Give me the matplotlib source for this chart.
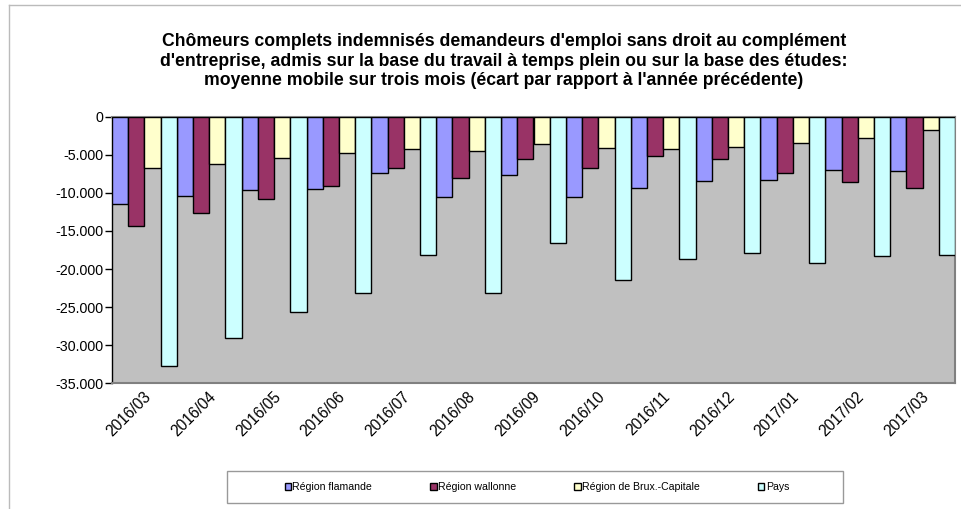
import matplotlib
matplotlib.use("Agg")
import matplotlib.pyplot as plt
from matplotlib.patches import Patch, Rectangle
from matplotlib.lines import Line2D
from matplotlib.ticker import FuncFormatter
import matplotlib.transforms as mtransforms
import numpy as np

plt.rcParams['font.family'] = ['Liberation Sans', 'DejaVu Sans']

months = ["2016/03", "2016/04", "2016/05", "2016/06", "2016/07", "2016/08", "2016/09",
          "2016/10", "2016/11", "2016/12", "2017/01", "2017/02", "2017/03"]
flamande = [-11500, -10400, -9600, -9500, -7400, -10600, -7600, -10600, -9300, -8400, -8300, -7000, -7100]
wallonne = [-14400, -12600, -10800, -9100, -6700, -8100, -5500, -6800, -5200, -5600, -7400, -8600, -9400]
bruxelles = [-6800, -6200, -5400, -4700, -4200, -4500, -3600, -4100, -4200, -4000, -3500, -2800, -1800]
pays = [-32700, -29100, -25700, -23100, -18200, -23100, -16600, -21400, -18700, -17900, -19200, -18300, -18200]

series_names = ["Région flamande", "Région wallonne", "Région de Brux.-Capitale", "Pays"]
series_values = [flamande, wallonne, bruxelles, pays]
colors = ["#9999FF", "#993366", "#FFFFCC", "#CCFFFF"]

title = ("Chômeurs complets indemnisés demandeurs d'emploi sans droit au complément\n"
         "d'entreprise, admis sur la base du travail à temps plein ou sur la base des études:\n"
         "moyenne mobile sur trois mois (écart par rapport à l'année précédente)")

W, H = 962, 509
fig = plt.figure(figsize=(W / 100, H / 100), dpi=100)

# outer chart-area border (top and left visible)
fig.add_artist(Line2D([9 / W, 1], [1 - 5 / H, 1 - 5 / H], color="#BBBBBB", lw=1.0))
fig.add_artist(Line2D([9 / W, 9 / W], [0, 1 - 5 / H], color="#BBBBBB", lw=1.0))

left, right, top, bottom = 112, 955, 116.7, 383.3
ax = fig.add_axes([left / W, 1 - bottom / H, (right - left) / W, (bottom - top) / H])
ax.set_facecolor("#C0C0C0")

x = np.arange(len(months))
bw = 0.25
for j, (vals, c) in enumerate(zip(series_values, colors)):
    ax.bar(x + (j - 1.5) * bw, vals, width=bw, color=c, edgecolor="black", linewidth=1.0, zorder=3)

ax.set_xlim(-0.5, len(months) - 0.5)
ax.set_ylim(-35000, 0)
ax.set_yticks(np.arange(-35000, 1, 5000))
ax.yaxis.set_major_formatter(FuncFormatter(lambda v, p: f"{int(v):,}".replace(",", ".")))
ax.tick_params(axis='y', direction='out', length=5, width=1, labelsize=10.3, pad=1, colors='black')
ax.set_xticks(x)
ax.set_xticklabels(months, rotation=45, ha='right', va='center', rotation_mode='anchor', fontsize=11.2)
ax.tick_params(axis='x', length=0, pad=8)
offset = mtransforms.ScaledTranslation(4 / 100, 0, fig.dpi_scale_trans)
for lbl in ax.get_xticklabels():
    lbl.set_transform(lbl.get_transform() + offset)

for s in ["top", "right", "bottom"]:
    ax.spines[s].set_color("#808080")
    ax.spines[s].set_linewidth(1.5)
ax.spines["left"].set_color("black")
ax.spines["left"].set_linewidth(1.0)

fig.text(504 / W, 1 - 61 / H, title, ha='center', va='center', fontsize=12.7,
         fontweight='bold', linespacing=1.22)

# legend box
fig.add_artist(Rectangle((227 / W, 1 - 503 / H), (843 - 227) / W, (503 - 471) / H,
                         transform=fig.transFigure, facecolor='white', edgecolor='#999999', lw=1.0))
handles = [Patch(facecolor=c, edgecolor='black', linewidth=1.0) for c in colors]
fig.legend(handles, series_names, ncol=4, loc='center', bbox_to_anchor=(537 / W, 1 - 487 / H),
           frameon=False, fontsize=7.6, handlelength=0.6, handleheight=0.6,
           handletextpad=0.15, columnspacing=5.5, borderpad=0)

fig.savefig("out.png", dpi=100)
